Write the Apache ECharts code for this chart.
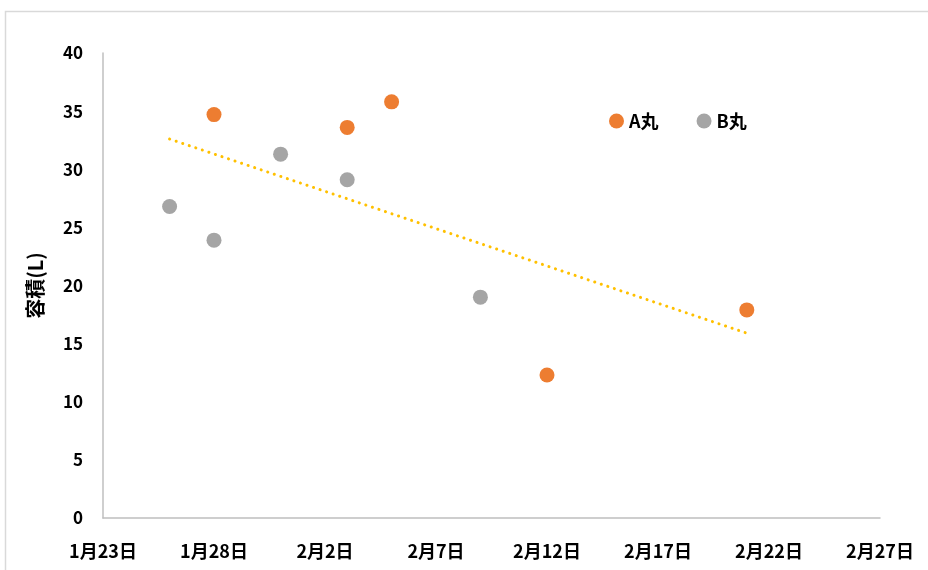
<!DOCTYPE html>
<html>
<head>
<meta charset="utf-8">
<script src="https://cdn.jsdelivr.net/npm/echarts@6/dist/echarts.min.js"></script>
<style>html,body{margin:0;padding:0;background:#fff}#c{width:928px;height:570px}</style>
</head>
<body>
<div id="c"></div>
<script>
const startDate = '2021-01-23';
const tickLabels = ['1月23日','1月28日','2月2日','2月7日','2月12日','2月17日','2月22日','2月27日'];
const aDates = ['2021-01-28','2021-02-03','2021-02-05','2021-02-12','2021-02-21'];
const aValues = [34.7, 33.6, 35.8, 12.3, 17.9];
const bDates = ['2021-01-26','2021-01-28','2021-01-31','2021-02-03','2021-02-09'];
const bValues = [26.8, 23.9, 31.3, 29.1, 19.0];
const trendDates = ['2021-01-26','2021-02-21'];
const trendValues = [32.6, 15.9];

const DAY = 86400000;
const t0 = Date.parse(startDate + 'T00:00:00Z');
const dayOf = d => Math.round((Date.parse(d + 'T00:00:00Z') - t0) / DAY);
const pts = (ds, vs) => ds.map((d, i) => [dayOf(d), vs[i]]);

const FONT = '"Noto Sans CJK JP", "Noto Sans", sans-serif';
const chart = echarts.init(document.getElementById('c'), null, {renderer: 'canvas'});
chart.setOption({
  backgroundColor: '#fff',
  animation: false,
  graphic: [{
    type: 'rect', shape: {x: 5.5, y: 11.5, width: 1000, height: 1000},
    style: {fill: 'none', stroke: '#d9d9d9', lineWidth: 1.5}, silent: true, z: -1
  }],
  grid: {left: 103, right: 48, top: 53, bottom: 52},
  legend: {
    left: 604, top: 107, itemWidth: 15, itemHeight: 15, itemGap: 38,
    icon: 'circle',
    textStyle: {fontFamily: FONT, fontWeight: 'bold', fontSize: 18, color: '#000'},
    data: ['A丸', 'B丸']
  },
  xAxis: {
    type: 'value', min: 0, max: 35, interval: 5,
    splitLine: {show: false},
    axisTick: {show: false},
    axisLine: {lineStyle: {color: '#bfbfbf', width: 1.5}},
    axisLabel: {
      margin: 24, color: '#000', fontFamily: FONT, fontWeight: 'bold', fontSize: 18,
      formatter: v => tickLabels[Math.round(v / 5)] || ''
    }
  },
  yAxis: {
    type: 'value', min: 0, max: 40, interval: 5,
    name: '容積(L)', nameLocation: 'middle', nameGap: 58, nameRotate: 90,
    nameTextStyle: {fontFamily: FONT, fontWeight: 'bold', fontSize: 20, color: '#000'},
    splitLine: {show: false},
    axisTick: {show: false},
    axisLine: {show: true, lineStyle: {color: '#bfbfbf', width: 1.5}},
    axisLabel: {margin: 20, color: '#000', fontFamily: FONT, fontWeight: 'bold', fontSize: 17}
  },
  series: [
    {
      name: '傾向', type: 'line', data: pts(trendDates, trendValues),
      symbol: 'none', silent: true,
      lineStyle: {color: '#FFC000', width: 3, type: [0.1, 6.8], cap: 'round'},
      z: 1
    },
    {
      name: 'A丸', type: 'scatter', data: pts(aDates, aValues),
      symbolSize: 15, itemStyle: {color: '#ED7D31', opacity: 1}, z: 3
    },
    {
      name: 'B丸', type: 'scatter', data: pts(bDates, bValues),
      symbolSize: 15, itemStyle: {color: '#A5A5A5', opacity: 1}, z: 3
    }
  ]
});
</script>
</body>
</html>
